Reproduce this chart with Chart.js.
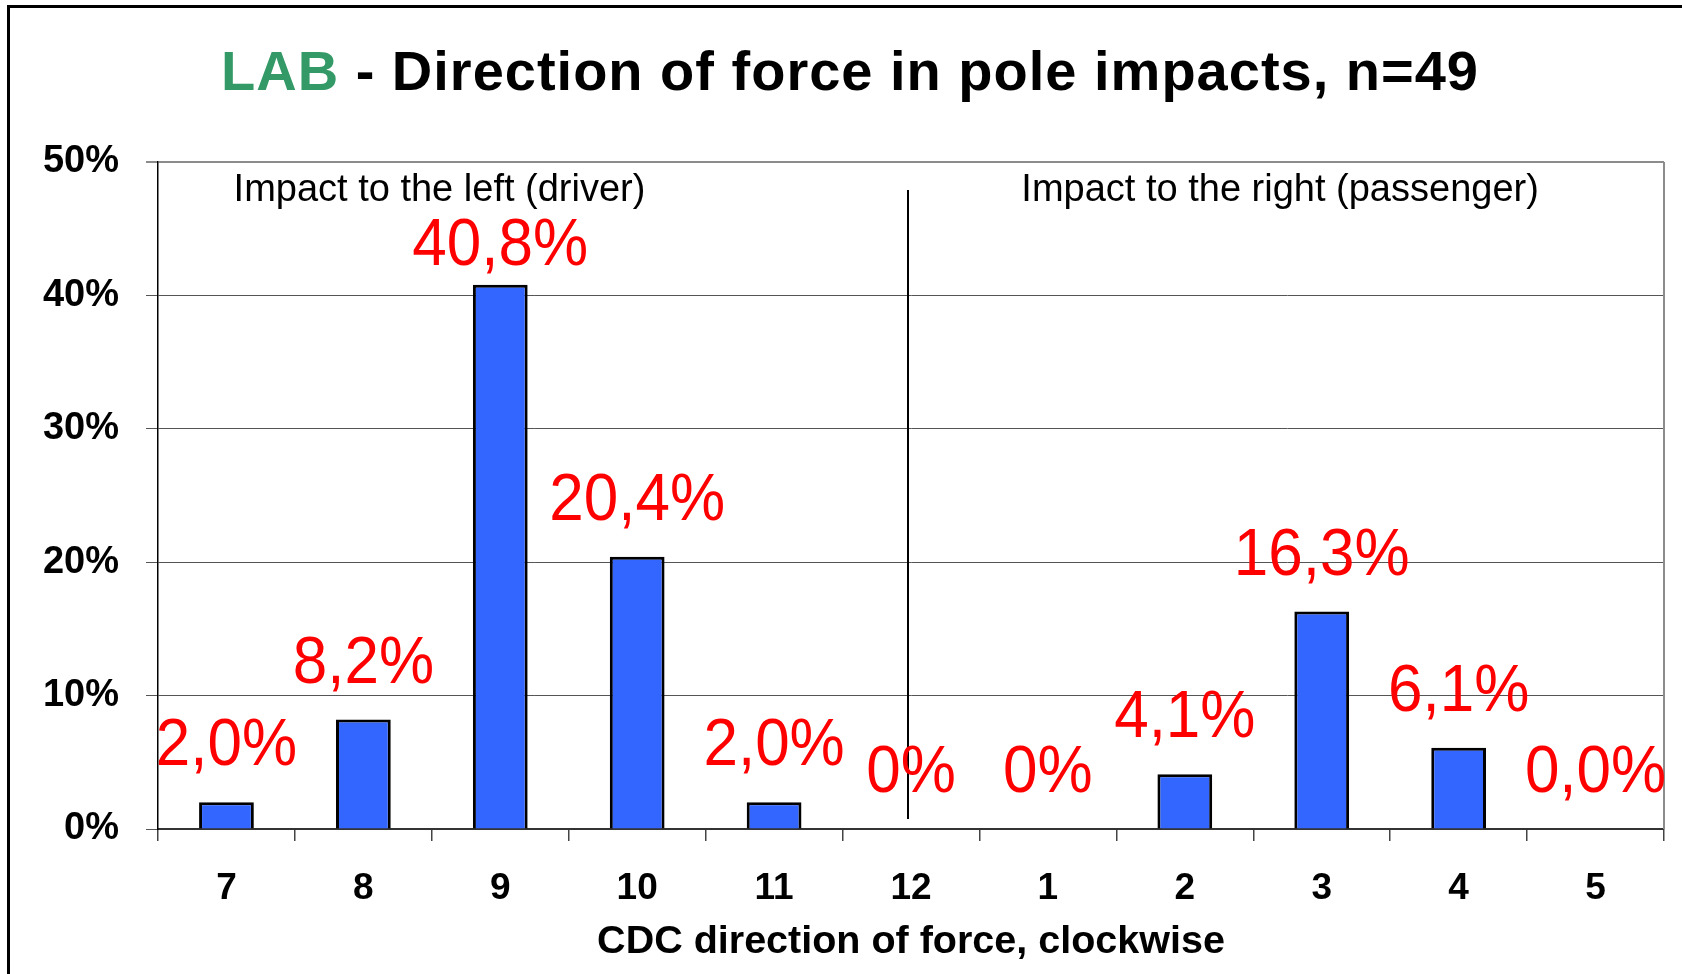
<!DOCTYPE html>
<html>
<head>
<meta charset="utf-8">
<script src="https://cdn.jsdelivr.net/npm/chart.js@4.4.1/dist/chart.umd.min.js"></script>
<style>
  html, body { margin: 0; padding: 0; background: #fff; overflow: hidden; }
  #stage { position: relative; width: 1682px; height: 974px; }
  #frame { position: absolute; left: 7px; top: 5px; width: 1700px; height: 1000px;
           border: 3px solid #000; pointer-events: none; }
  #title { position: absolute; left: 0; top: 43px; width: 1700px; text-align: center;
           font: bold 56px/56px "Liberation Sans", Arial, sans-serif; letter-spacing: 1px;
           color: #000; white-space: nowrap; }
  #title .lab { color: #339966; }
  #wrap { position: absolute; left: 0; top: 0; width: 1682px; height: 974px; }
</style>
</head>
<body>
<div id="stage">
  <div id="frame"></div>
  <div id="title"><span class="lab">LAB</span> - Direction of force in pole impacts, n=49</div>
  <div id="wrap"><canvas id="chart"></canvas></div>
</div>
<script>
/* pole impacts — CDC direction of force bar chart */

const directions = ["7", "8", "9", "10", "11", "12", "1", "2", "3", "4", "5"];
const shares     = [2.0, 8.2, 40.8, 20.4, 2.0, 0, 0, 4.1, 16.3, 6.1, 0];
const shareText  = ["2,0%", "8,2%", "40,8%", "20,4%", "2,0%", "0%", "0%", "4,1%", "16,3%", "6,1%", "0,0%"];
const yTicks     = [0, 10, 20, 30, 40, 50];
const sideNotes  = ["Impact to the left (driver)", "Impact to the right (passenger)"];

const FONT = '"Liberation Sans", Arial, sans-serif';

// ── Overlay: plot frame, divider, side notes, value labels ───────
const overlay = {
  id: "overlay",
  afterDatasetsDraw(chart) {
    const { ctx, chartArea: a, scales: { x } } = chart;
    ctx.save();

    // right edge of the plot area
    ctx.strokeStyle = "#8c8c8c";
    ctx.lineWidth = 2;
    ctx.beginPath();
    ctx.moveTo(a.right, a.top);
    ctx.lineTo(a.right, a.bottom);
    ctx.stroke();

    // divider at 12 o'clock
    const divX = x.getPixelForValue(directions.indexOf("12")) - 3;
    ctx.strokeStyle = "#000";
    ctx.lineWidth = 2;
    ctx.beginPath();
    ctx.moveTo(divX, a.top + 28);
    ctx.lineTo(divX, a.bottom - 10);
    ctx.stroke();

    // side notes
    ctx.fillStyle = "#000";
    ctx.font = "38px " + FONT;
    ctx.textAlign = "center";
    ctx.textBaseline = "alphabetic";
    ctx.fillText(sideNotes[0], x.getPixelForValue(1.556), a.top + 39);
    ctx.fillText(sideNotes[1], x.getPixelForValue(7.696), a.top + 39);

    // red value labels above bars
    const meta = chart.getDatasetMeta(0);
    ctx.fillStyle = "#ff0000";
    ctx.font = "62px " + FONT;
    meta.data.forEach((bar, i) => {
      const top = Math.min(bar.y, bar.base);
      const baseY = Math.max(top - 37, a.top + 103);
      ctx.save();
      ctx.translate(bar.x, baseY);
      ctx.scale(1, 1.07);
      ctx.fillText(shareText[i], 0, 0);
      ctx.restore();
    });

    ctx.restore();
  },
};

const ctx = document.getElementById("chart").getContext("2d");
new Chart(ctx, {
  type: "bar",
  data: {
    labels: directions,
    datasets: [{
      data: shares,
      backgroundColor: "#3366ff",
      borderColor: "#000",
      borderWidth: 3,
      borderSkipped: "start",
      categoryPercentage: 1,
      barPercentage: 0.4,
    }],
  },
  options: {
    responsive: true, maintainAspectRatio: false,
    animation: false,
    layout: { padding: { top: 162, right: 18, bottom: 0, left: 0 } },
    plugins: { legend: { display: false }, tooltip: { enabled: false }, title: { display: false } },
    scales: {
      x: {
        grid: { display: true, drawOnChartArea: false, offset: true, tickLength: 12, color: "#444", lineWidth: 1.5 },
        border: { display: true, color: "#333", width: 2 },
        ticks: { color: "#000", font: { family: FONT, size: 37, weight: "bold" }, padding: 26, maxRotation: 0 },
        title: {
          display: true, text: "CDC direction of force, clockwise", color: "#000",
          font: { family: FONT, size: 39.5, weight: "bold" }, padding: { top: 0, bottom: 8 },
        },
        afterFit: s => { s.height = 145; },
      },
      y: {
        min: 0, max: 50,
        afterBuildTicks: s => { s.ticks = yTicks.map(v => ({ value: v })); },
        grid: {
          tickLength: 12,
          color: c => c.tick && c.tick.value === 50 ? "#8c8c8c" : "#555",
          lineWidth: c => c.tick && c.tick.value === 50 ? 2 : 1,
        },
        border: { display: true, color: "#000", width: 1.5 },
        ticks: {
          color: "#000", padding: 27,
          font: { family: FONT, size: 38, weight: "bold" },
          callback: v => v + "%",
        },
        afterFit: s => { s.width = 158; },
      },
    },
  },
  plugins: [overlay],
});
</script>
</body>
</html>
